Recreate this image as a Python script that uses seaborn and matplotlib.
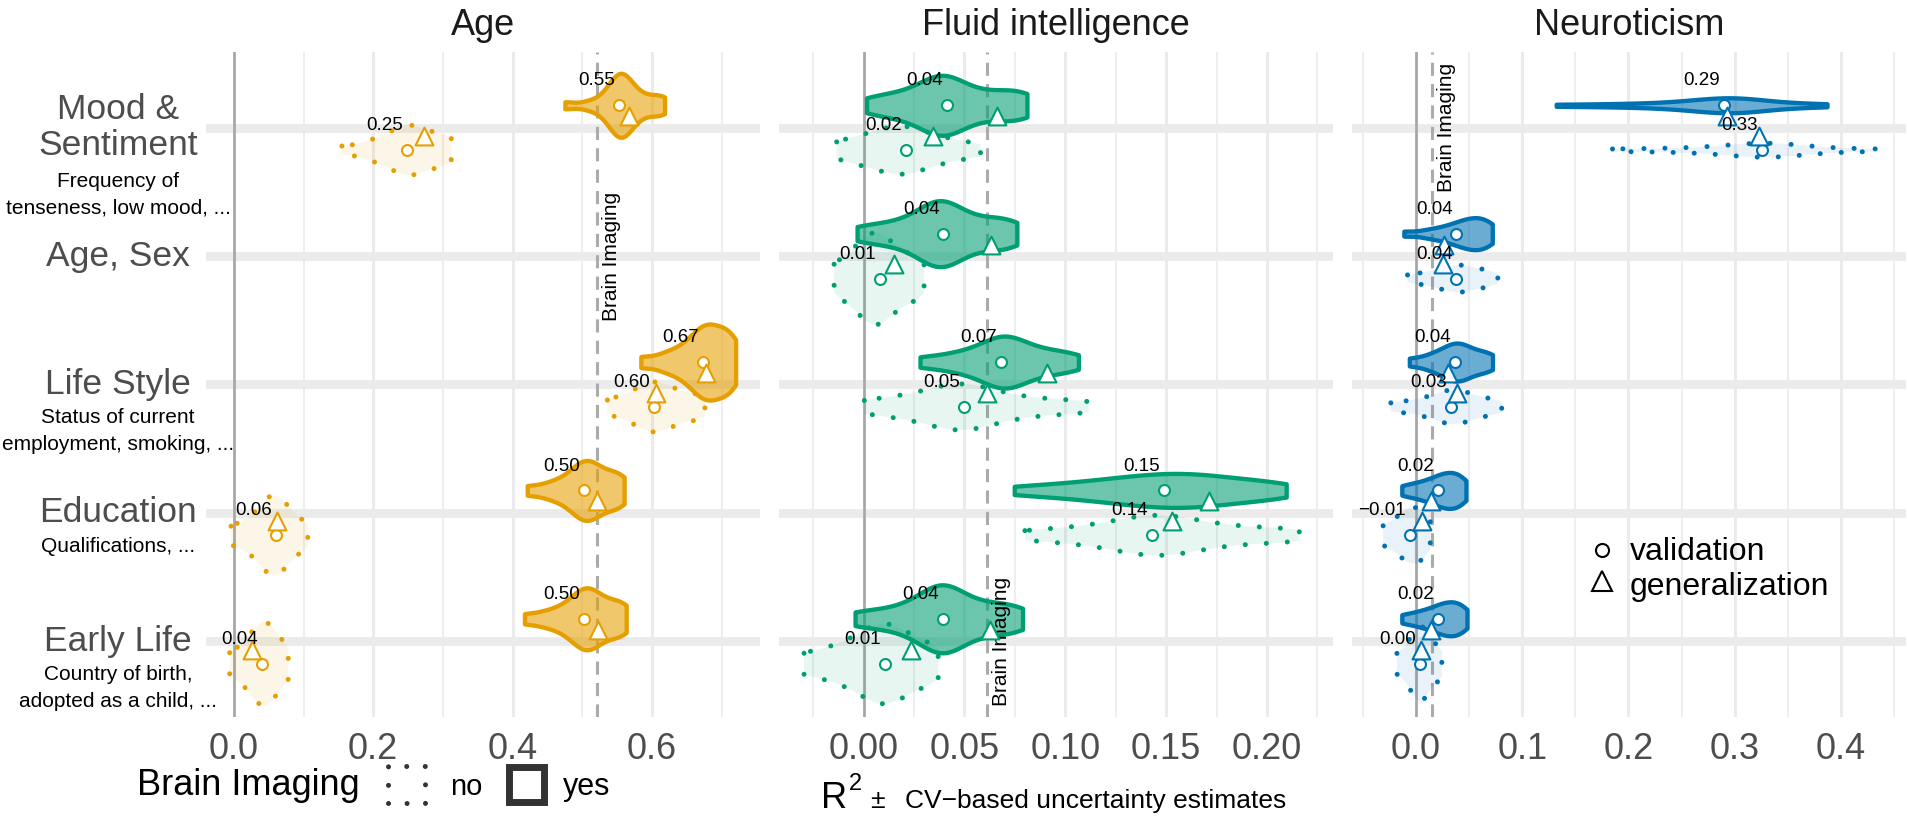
import matplotlib
matplotlib.use("Agg")
import numpy as np
import pandas as pd
import matplotlib.pyplot as plt
import matplotlib.transforms as mtransforms
from matplotlib.colors import to_rgba
from matplotlib.lines import Line2D
from matplotlib.patches import Rectangle
import seaborn as sns

# ---- data ----
TARGETS = ["Age", "Fluid intelligence", "Neuroticism"]
COLORS = ["#E69F00", "#009E73", "#0072B2"]
CATEGORIES = ["Mood &\nSentiment", "Age, Sex", "Life Style", "Education", "Early Life"]
SUBTITLES = ["Frequency of\ntenseness, low mood, ...", "",
             "Status of current\nemployment, smoking, ...",
             "Qualifications, ...", "Country of birth,\nadopted as a child, ..."]

# CV fold R2 values, one list per category (None = no model)
age_yes_folds = [
    [0.475, 0.508, 0.527, 0.536, 0.542, 0.546, 0.549, 0.552, 0.554, 0.556, 0.558, 0.561, 0.564, 0.568, 0.573, 0.580, 0.590, 0.602, 0.612, 0.618],
    None,
    [0.584, 0.612, 0.628, 0.640, 0.650, 0.657, 0.663, 0.668, 0.672, 0.676, 0.680, 0.684, 0.688, 0.693, 0.698, 0.703, 0.708, 0.713, 0.717, 0.720],
    [0.421, 0.447, 0.462, 0.474, 0.483, 0.490, 0.495, 0.499, 0.503, 0.507, 0.511, 0.515, 0.520, 0.526, 0.533, 0.541, 0.549, 0.555, 0.560],
    [0.417, 0.443, 0.459, 0.472, 0.482, 0.489, 0.495, 0.499, 0.503, 0.507, 0.511, 0.515, 0.520, 0.526, 0.534, 0.543, 0.552, 0.558, 0.563],
]
age_no_folds = [
    [0.155, 0.185, 0.200, 0.212, 0.221, 0.229, 0.236, 0.242, 0.247, 0.251, 0.256, 0.261, 0.267, 0.274, 0.282, 0.291, 0.300, 0.307, 0.312],
    None,
    [0.536, 0.553, 0.566, 0.576, 0.584, 0.591, 0.597, 0.602, 0.607, 0.613, 0.619, 0.626, 0.634, 0.644, 0.656, 0.667, 0.676],
    [-0.004, 0.012, 0.024, 0.033, 0.040, 0.045, 0.050, 0.054, 0.058, 0.062, 0.066, 0.071, 0.077, 0.084, 0.093, 0.106],
    [-0.006, 0.008, 0.017, 0.024, 0.030, 0.035, 0.039, 0.043, 0.047, 0.051, 0.056, 0.062, 0.069, 0.078],
]
fluid_yes_folds = [
    [0.0015, 0.010, 0.017, 0.023, 0.028, 0.032, 0.035, 0.037, 0.039, 0.041, 0.043, 0.046, 0.050, 0.055, 0.061, 0.067, 0.073, 0.078, 0.081],
    [-0.0032, 0.007, 0.015, 0.022, 0.027, 0.031, 0.034, 0.036, 0.038, 0.040, 0.042, 0.045, 0.049, 0.054, 0.060, 0.066, 0.071, 0.076],
    [0.028, 0.040, 0.048, 0.054, 0.059, 0.063, 0.066, 0.068, 0.070, 0.072, 0.075, 0.078, 0.082, 0.087, 0.093, 0.099, 0.1065],
    [0.0747, 0.092, 0.104, 0.114, 0.122, 0.129, 0.135, 0.141, 0.146, 0.151, 0.156, 0.161, 0.166, 0.171, 0.177, 0.184, 0.192, 0.201, 0.2095],
    [-0.0042, 0.007, 0.016, 0.023, 0.028, 0.032, 0.035, 0.037, 0.039, 0.041, 0.043, 0.046, 0.050, 0.055, 0.061, 0.067, 0.073, 0.0788],
]
fluid_no_folds = [
    [-0.0133, -0.006, 0.000, 0.005, 0.009, 0.013, 0.016, 0.019, 0.022, 0.025, 0.029, 0.034, 0.040, 0.047, 0.058],
    [-0.0146, -0.009, -0.005, -0.002, 0.001, 0.003, 0.005, 0.007, 0.009, 0.011, 0.014, 0.017, 0.021, 0.025, 0.030],
    [0.0004, 0.012, 0.022, 0.030, 0.036, 0.041, 0.045, 0.048, 0.051, 0.055, 0.060, 0.066, 0.074, 0.084, 0.097, 0.1115],
    [0.080, 0.097, 0.110, 0.120, 0.128, 0.134, 0.139, 0.143, 0.147, 0.151, 0.156, 0.162, 0.169, 0.178, 0.190, 0.203, 0.216],
    [-0.0295, -0.019, -0.011, -0.005, 0.000, 0.004, 0.007, 0.010, 0.013, 0.016, 0.020, 0.025, 0.031, 0.037],
]
neuro_yes_folds = [
    [0.132, 0.175, 0.205, 0.228, 0.245, 0.258, 0.268, 0.276, 0.283, 0.289, 0.294, 0.299, 0.304, 0.310, 0.317, 0.326, 0.340, 0.360, 0.387],
    [-0.0115, 0.008, 0.018, 0.026, 0.032, 0.037, 0.041, 0.045, 0.048, 0.051, 0.054, 0.057, 0.060, 0.063, 0.066, 0.069, 0.0718],
    [-0.0063, 0.008, 0.016, 0.022, 0.027, 0.031, 0.034, 0.037, 0.040, 0.043, 0.046, 0.050, 0.055, 0.061, 0.067, 0.072],
    [-0.0134, -0.004, 0.003, 0.009, 0.014, 0.018, 0.022, 0.025, 0.028, 0.031, 0.034, 0.037, 0.040, 0.043, 0.047],
    [-0.0134, -0.003, 0.004, 0.010, 0.015, 0.019, 0.023, 0.026, 0.029, 0.032, 0.035, 0.038, 0.041, 0.044, 0.048],
]
neuro_no_folds = [
    [0.185, 0.225, 0.255, 0.277, 0.293, 0.305, 0.314, 0.321, 0.327, 0.333, 0.340, 0.348, 0.358, 0.372, 0.395, 0.435],
    [-0.008, 0.006, 0.015, 0.022, 0.028, 0.033, 0.037, 0.041, 0.045, 0.050, 0.055, 0.061, 0.068, 0.077],
    [-0.0237, -0.008, 0.004, 0.013, 0.020, 0.026, 0.030, 0.034, 0.038, 0.042, 0.047, 0.053, 0.061, 0.070, 0.0807],
    [-0.031, -0.024, -0.018, -0.014, -0.010, -0.007, -0.004, -0.001, 0.002, 0.005, 0.009, 0.0134],
    [-0.018, -0.011, -0.006, -0.003, 0.000, 0.002, 0.004, 0.006, 0.008, 0.011, 0.015, 0.019, 0.0243],
]

# point estimates: circle = validation, triangle = generalization
age_yes_val = [0.552, None, 0.673, 0.503, 0.503]
age_yes_gen = [0.567, None, 0.678, 0.521, 0.522]
age_no_val = [0.249, None, 0.603, 0.060, 0.040]
age_no_gen = [0.273, None, 0.606, 0.0625, 0.026]
fluid_yes_val = [0.0415, 0.0396, 0.068, 0.149, 0.0394]
fluid_yes_gen = [0.066, 0.0632, 0.091, 0.171, 0.0627]
fluid_no_val = [0.021, 0.0083, 0.050, 0.143, 0.0105]
fluid_no_gen = [0.0346, 0.015, 0.061, 0.153, 0.0237]
neuro_yes_val = [0.290, 0.038, 0.037, 0.021, 0.021]
neuro_yes_gen = [0.293, 0.026, 0.030, 0.0143, 0.0143]
neuro_no_val = [0.326, 0.038, 0.033, -0.0056, 0.0039]
neuro_no_gen = [0.323, 0.025, 0.039, 0.0055, 0.0045]

BRAIN_IMAGING_R2 = [0.521, 0.0614, 0.0146]
BRAIN_LABEL_ROW = [1, 4, 0]   # category next to which the "Brain Imaging" text sits

FOLDS = {"Age": (age_yes_folds, age_no_folds),
         "Fluid intelligence": (fluid_yes_folds, fluid_no_folds),
         "Neuroticism": (neuro_yes_folds, neuro_no_folds)}
POINTS = {"Age": (age_yes_val, age_yes_gen, age_no_val, age_no_gen),
          "Fluid intelligence": (fluid_yes_val, fluid_yes_gen, fluid_no_val, fluid_no_gen),
          "Neuroticism": (neuro_yes_val, neuro_yes_gen, neuro_no_val, neuro_no_gen)}

# ---- layout / style ----
W, H = 1908, 816
AX_LEFT = [206, 779, 1352]
AX_WIDTH = 554
AX_TOP, AX_BOTTOM = 52, 717
XLIMS = [(-0.040, 0.755), (-0.0419, 0.2327), (-0.0603, 0.4614)]
MAJOR = [[0, 0.2, 0.4, 0.6], [0, 0.05, 0.10, 0.15, 0.20], [0, 0.1, 0.2, 0.3, 0.4]]
MINOR = [[0.1, 0.3, 0.5, 0.7], [-0.025, 0.025, 0.075, 0.125, 0.175, 0.225],
         [-0.05, 0.05, 0.15, 0.25, 0.35, 0.45]]
TICK_FMT = ["{:.1f}", "{:.2f}", "{:.1f}"]
OFF = 0.175      # yes above / no below the category line
YLIM = (0.41, 5.59)
PX_PER_UNIT = (AX_BOTTOM - AX_TOP) / (YLIM[1] - YLIM[0])

# half thickness of each violin in pixels (yes, no) per panel
HALF_PX = {
    "Age": ([32, None, 38, 30, 31], [25, None, 25, 40, 42]),
    "Fluid intelligence": ([30, 33, 26, 17, 34], [24, 46, 23, 20, 40]),
    "Neuroticism": ([7.5, 16, 19, 18, 17], [7, 13.5, 17, 28, 38]),
}


def fx(x):
    return x / W


def fy(y):
    return 1 - y / H


def cat_pos(i):
    return 5 - i


sns.set_style("white")
plt.rcParams["font.family"] = ["Liberation Sans", "DejaVu Sans"]

fig = plt.figure(figsize=(W / 100, H / 100), dpi=100)
axes = []
for k, target in enumerate(TARGETS):
    ax = fig.add_axes([fx(AX_LEFT[k]), fy(AX_BOTTOM), AX_WIDTH / W, (AX_BOTTOM - AX_TOP) / H])
    axes.append(ax)
    color = COLORS[k]
    yes_folds, no_folds = FOLDS[target]
    yes_half, no_half = HALF_PX[target]

    for is_yes, folds, sign, halves in ((False, no_folds, -1, no_half),
                                        (True, yes_folds, 1, yes_half)):
        for i, vals in enumerate(folds):
            if vals is None:
                continue
            df = pd.DataFrame({"r2": vals, "pos": cat_pos(i) + sign * OFF})
            n_before = len(ax.collections)
            sns.violinplot(data=df, x="r2", y="pos", orient="y", native_scale=True,
                           density_norm="width", cut=0, bw_adjust=0.7, inner=None,
                           width=2 * halves[i] / PX_PER_UNIT, saturation=1, color=color, ax=ax)
            for coll in ax.collections[n_before:]:
                coll.set_edgecolor(color)
                coll.set_capstyle("round")
                if is_yes:
                    coll.set_facecolor(to_rgba(color, 0.58))
                    coll.set_linewidth(3.1)
                    coll.set_joinstyle("round")
                    coll.set_zorder(2)
                else:
                    coll.set_facecolor(to_rgba(color, 0.09))
                    coll.set_linewidth(3.6)
                    coll.set_linestyle((0, (0.01, 4.2)))
                    coll.set_zorder(1.5)

    # points and value labels
    yes_val, yes_gen, no_val, no_gen = POINTS[target]
    lab_trans = mtransforms.offset_copy(ax.transData, fig=fig, x=-4, units="dots")
    for vals, gens, sign, tri_shift in ((yes_val, yes_gen, 1, -0.085), (no_val, no_gen, -1, 0.11)):
        for i, (v, g) in enumerate(zip(vals, gens)):
            if v is None:
                continue
            yc = cat_pos(i) + sign * OFF
            ax.scatter([v], [yc], marker="o", s=62, facecolor="white", edgecolor=color,
                       linewidth=1.5, zorder=4)
            ax.scatter([g], [yc + tri_shift], marker="^", s=165, facecolor="white",
                       edgecolor=color, linewidth=1.5, zorder=4)
            ax.text(v, yc + 0.19, f"{v:.2f}".replace("-", "\u2212"), ha="right", va="center",
                    fontsize=13.5, color="black", zorder=5, transform=lab_trans)

    # background bands, zero line and brain imaging reference
    for i in range(len(CATEGORIES)):
        ax.axhline(cat_pos(i), color="#EBEBEB", lw=6.3, zorder=0.6)
    ax.axvline(0, color="#A6A6A6", lw=1.9, zorder=0.9)
    ax.axvline(BRAIN_IMAGING_R2[k], color="#ABABAB", lw=2.2, ls=(0, (4.3, 2.7)), zorder=0.9)
    ax.text(BRAIN_IMAGING_R2[k], cat_pos(BRAIN_LABEL_ROW[k]), "Brain Imaging", rotation=90,
            ha="left", va="center", fontsize=15, color="black",
            transform=mtransforms.offset_copy(ax.transData, fig=fig, x=5, units="dots"))

    ax.set_xlim(*XLIMS[k])
    ax.set_ylim(*YLIM)
    ax.set_xticks(MAJOR[k])
    ax.set_xticklabels([TICK_FMT[k].format(t) for t in MAJOR[k]])
    ax.set_xticks(MINOR[k], minor=True)
    ax.set_yticks([])
    ax.tick_params(axis="x", which="both", length=0, pad=11, labelsize=26, labelcolor="#4D4D4D")
    ax.set_axisbelow(True)
    ax.grid(True, axis="x", which="major", color="#EBEBEB", lw=2.2)
    ax.grid(True, axis="x", which="minor", color="#EBEBEB", lw=1.2)
    ax.grid(False, axis="y")
    for sp in ax.spines.values():
        sp.set_visible(False)
    ax.set_xlabel("")
    ax.set_ylabel("")
    ax.set_title(target, fontsize=26, pad=12, color="#1A1A1A")

# category labels on the left
cat_trans = mtransforms.blended_transform_factory(fig.transFigure, axes[0].transData)
for i, (name, sub) in enumerate(zip(CATEGORIES, SUBTITLES)):
    fig.text(fx(118), cat_pos(i), name, ha="center", va="center", fontsize=25.5,
             color="#4D4D4D", linespacing=1.1, transform=cat_trans)
    if sub:
        n_lines = name.count("\n") + 1
        fig.text(fx(118), cat_pos(i), sub, ha="center", va="top", fontsize=15, color="black",
                 linespacing=1.5,
                 transform=mtransforms.offset_copy(cat_trans, fig=fig, y=-(24 + 20 * (n_lines - 1)),
                                                   units="dots"))

# bottom legend: brain imaging
fig.text(fx(137), fy(795), "Brain Imaging", fontsize=26, va="baseline", color="black")
fig.add_artist(Rectangle((fx(388), fy(803)), 37 / W, 37 / H, transform=fig.transFigure,
                         fill=False, edgecolor="#333333", lw=3.6, linestyle=(0, (0.01, 3.7)),
                         capstyle="round"))
fig.text(fx(450), fy(795), "no", fontsize=21, va="baseline", color="black")
fig.add_artist(Rectangle((fx(508.5), fy(801.5)), 35 / W, 35 / H, transform=fig.transFigure,
                         facecolor="white", edgecolor="#333333", lw=5))
fig.text(fx(563), fy(795), "yes", fontsize=22, va="baseline", color="black")

# x axis label
fig.text(fx(821), fy(808), "R", fontsize=26, va="baseline", color="black")
fig.text(fx(849), fy(790), "2", fontsize=17, va="baseline", color="black")
fig.text(fx(870), fy(808), "\u00b1", fontsize=19, va="baseline", color="black")
fig.text(fx(905), fy(808), "CV\u2212based uncertainty estimates", fontsize=19, va="baseline",
         color="black")

# marker legend
fig.add_artist(Line2D([fx(1602)], [fy(549.5)], marker="o", markersize=9.4, mfc="white",
                      mec="black", mew=1.5, transform=fig.transFigure))
fig.add_artist(Line2D([fx(1602)], [fy(581)], marker="^", markersize=15, mfc="white",
                      mec="black", mew=1.5, transform=fig.transFigure))
fig.text(fx(1630), fy(560), "validation", fontsize=23, va="baseline", color="black")
fig.text(fx(1630), fy(595), "generalization", fontsize=23, va="baseline", color="black")

fig.savefig("out.png", dpi=100)
